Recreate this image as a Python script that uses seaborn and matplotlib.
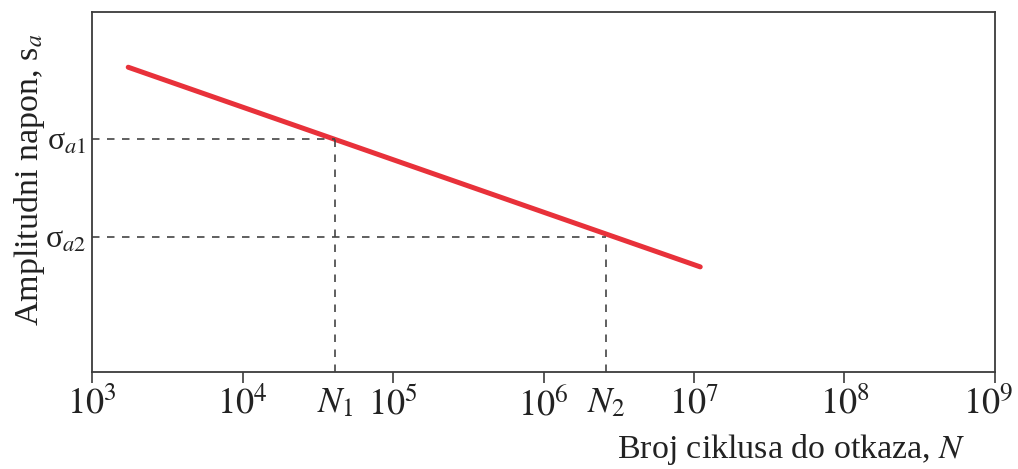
import matplotlib
matplotlib.use('Agg')
import matplotlib.pyplot as plt
import matplotlib.transforms as mtransforms
import seaborn as sns
import pandas as pd

# S-N curve (y in arbitrary stress units, axis has no numeric scale)
curve_n = [1.74e3, 1.1e7]
curve_s = [0.847, 0.292]

# marked points
n_marks = [4.12e4, 2.6e6]
s_marks = [0.647, 0.375]
n_labels = [r'$N_1$', r'$N_2$']
s_labels = [r'σ$_{a1}$', r'σ$_{a2}$']

decades = [1e3, 1e4, 1e5, 1e6, 1e7, 1e8, 1e9]
decade_labels = [r'$10^{3}$', r'$10^{4}$', r'$10^{5}$', r'$10^{6}$',
                 r'$10^{7}$', r'$10^{8}$', r'$10^{9}$']

sns.set_style('ticks')
plt.rcParams['font.family'] = ['Liberation Serif', 'DejaVu Serif']
plt.rcParams['mathtext.fontset'] = 'stix'

edge = '#3c3c3c'

fig = plt.figure(figsize=(10.18, 4.69), dpi=100)
ax = fig.add_axes([0.0904, 0.207, 0.887, 0.767])

df = pd.DataFrame({'N': curve_n, 'S': curve_s})
sns.lineplot(data=df, x='N', y='S', ax=ax, color='#e8313a', linewidth=3.6)

# dashed guide lines
for n, s in zip(n_marks, s_marks):
    ax.plot([decades[0], n], [s, s], ls=(0, (4.5, 4.5)), color='#444444', lw=1.2)
    ax.plot([n, n], [0, s], ls=(0, (4.5, 4.5)), color='#444444', lw=1.2)

ax.set_xscale('log')
ax.set_xlim(decades[0], decades[-1])
ax.set_ylim(0, 1)

ax.set_xticks(decades + n_marks)
ax.set_xticklabels(decade_labels + n_labels)
ax.minorticks_off()
ax.tick_params(axis='x', direction='out', length=8, width=1.2, color=edge,
               labelsize=26, pad=3, labelcolor='#222222')
for t in ax.xaxis.get_major_ticks()[len(decades):]:
    t.tick1line.set_markersize(0)

# keep the last decade label inside the canvas
last = ax.get_xticklabels()[len(decades) - 1]
last.set_transform(last.get_transform() +
                   mtransforms.ScaledTranslation(-5 / 72, 0, fig.dpi_scale_trans))

ax.set_yticks(s_marks)
ax.set_yticklabels(s_labels)
ax.tick_params(axis='y', length=0, labelsize=23, pad=4, labelcolor='#222222')

for sp in ax.spines.values():
    sp.set_color(edge)
    sp.set_linewidth(1.3)

ax.set_xlabel('Broj ciklusa do otkaza, $N$', fontsize=24.5, color='#222222',
              ha='right', va='center')
ax.xaxis.set_label_coords(0.967, -0.215)
ax.set_ylabel('Amplitudni napon, s$_a$', fontsize=24.5, color='#222222',
              va='center')
ax.yaxis.set_label_coords(-0.069, 0.533)

fig.savefig('out.png', dpi=100)
